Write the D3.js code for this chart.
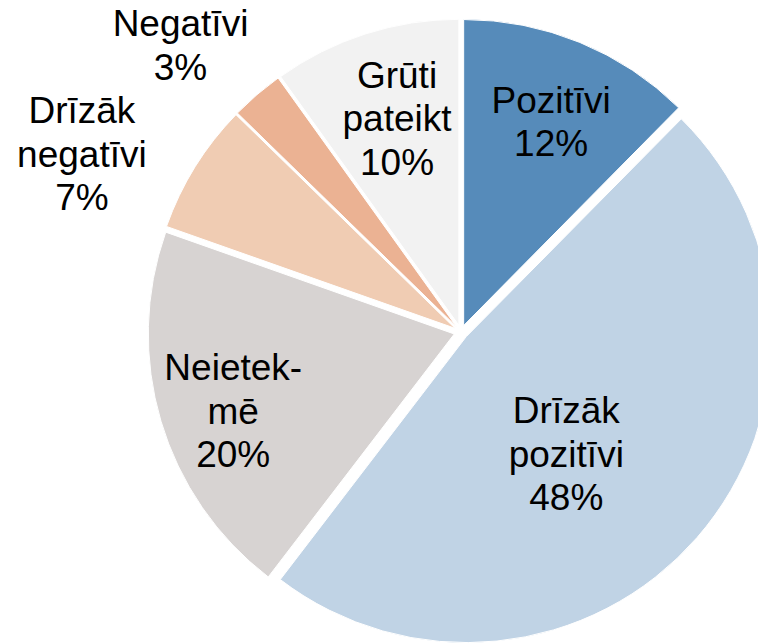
<!DOCTYPE html>
<html>
<head>
<meta charset="utf-8">
<script src="https://cdn.jsdelivr.net/npm/d3@7"></script>
<style>
  html, body { margin: 0; padding: 0; background: #fff; }
  svg { display: block; }
</style>
</head>
<body>
<svg id="chart"></svg>
<script>
// slices, clockwise from 12 o'clock
const categories = ["Pozitīvi", "Drīzāk pozitīvi", "Neietekmē", "Drīzāk negatīvi", "Negatīvi", "Grūti pateikt"];
const values = [12.4, 48.0, 20.0, 6.9, 2.8, 9.9];
const labelLines = [["Pozitīvi"], ["Drīzāk", "pozitīvi"], ["Neietek-", "mē"], ["Drīzāk", "negatīvi"], ["Negatīvi"], ["Grūti", "pateikt"]];
const colors = ["#568BBA", "#C0D3E5", "#D7D3D2", "#F0CCB3", "#EBB293", "#F2F2F2"];

// label placement: radius factor and angle tweak (deg) from slice middle
const labelRadius = [0.75, 0.525, 0.787, 1.37, 1.313, 0.731];
const labelTurn = [0.8, 8, -2.4, -6.6, -3.6, 1.2];

const width = 758, height = 643;
const cx = 461, cy = 332, r = 306;
const explode = 7;
const fontSize = 37, lineH = 43.5, capH = 27;

const svg = d3.select('#chart').attr('width', width).attr('height', height);

const pie = d3.pie().sort(null).value(d => d);
const arcs = pie(values);

const arc = d3.arc().innerRadius(0).outerRadius(r);

const g = svg.append('g').attr('transform', `translate(${cx},${cy})`);

g.selectAll('path')
  .data(arcs)
  .join('path')
  .attr('d', arc)
  .attr('fill', (d, i) => colors[i])
  .attr('stroke', '#fff')
  .attr('stroke-width', 1)
  .attr('transform', d => {
    const a = (d.startAngle + d.endAngle) / 2;
    return `translate(${Math.sin(a) * explode},${-Math.cos(a) * explode})`;
  });

const labels = g.selectAll('text.lbl')
  .data(arcs)
  .join('text')
  .attr('class', 'lbl')
  .attr('text-anchor', 'middle')
  .attr('font-family', '"Liberation Sans", Arial, sans-serif')
  .attr('font-size', fontSize)
  .attr('fill', '#000');

labels.each(function(d, i) {
  const a = (d.startAngle + d.endAngle) / 2 + labelTurn[i] * Math.PI / 180;
  const rr = labelRadius[i] * r;
  const x = Math.sin(a) * rr, y = -Math.cos(a) * rr;
  const lines = labelLines[i].concat([Math.round(values[i]) + '%']);
  const blockH = capH + (lines.length - 1) * lineH;
  const y0 = y - blockH / 2 + capH;
  d3.select(this).selectAll('tspan')
    .data(lines)
    .join('tspan')
    .attr('x', x)
    .attr('y', (t, k) => y0 + k * lineH)
    .text(t => t);
});
</script>
</body>
</html>
